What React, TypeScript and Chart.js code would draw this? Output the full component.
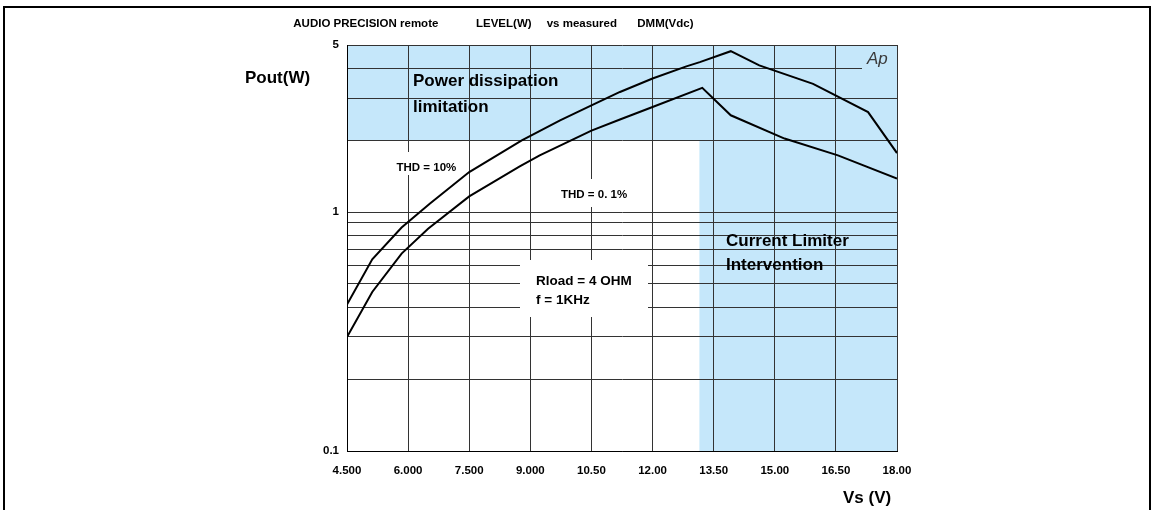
import React, { useEffect, useRef } from "react";
import { Chart, registerables } from "chart.js";

Chart.register(...registerables);

// ---- data ----
const xTickValues = [4.5, 6, 7.5, 9, 10.5, 12, 13.5, 15, 16.5, 18];
const xTickLabels = ["4.500", "6.000", "7.500", "9.000", "10.50", "12.00", "13.50", "15.00", "16.50", "18.00"];
const yGridValues = [0.1, 0.2, 0.3, 0.4, 0.5, 0.6, 0.7, 0.8, 0.9, 1, 2, 3, 4, 5];
const yLabelValues = [0.1, 1, 5];
const yTickLabels = ["0.1", "1", "5"];

const thd10Vs = [4.5, 5.12, 5.84, 6.53, 7.5, 8.79, 9.73, 10.5, 11.2, 12.0, 12.83, 13.16, 13.92, 14.62, 15.94, 17.29, 18.0];
const thd10Pout = [0.41, 0.634, 0.861, 1.084, 1.47, 1.995, 2.42, 2.795, 3.18, 3.62, 4.07, 4.24, 4.71, 4.11, 3.44, 2.62, 1.765];

const thd01Vs = [4.5, 5.12, 5.84, 6.49, 7.5, 8.74, 9.23, 10.5, 11.2, 12.0, 13.22, 13.92, 15.24, 16.55, 18.0];
const thd01Pout = [0.3, 0.463, 0.67, 0.852, 1.163, 1.553, 1.726, 2.19, 2.44, 2.75, 3.31, 2.54, 2.03, 1.726, 1.38];

const powerLimitPout = 2;
const currentLimitVs = 13.15;

const FONT = "'Liberation Sans', Arial, Helvetica, sans-serif";
const BLUE = "#C5E7FA";
const GRID = "#333333";

const decor = {
  id: "decor",
  beforeDraw(chart: any) {
    const { ctx, chartArea: a, scales } = chart;
    const x = scales.x;
    const y = scales.y;
    ctx.save();
    ctx.fillStyle = BLUE;
    const yp = y.getPixelForValue(powerLimitPout);
    ctx.fillRect(a.left, a.top, a.right - a.left, yp - a.top);
    const xc = x.getPixelForValue(currentLimitVs);
    ctx.fillRect(xc, yp, a.right - xc, a.bottom - yp);
    ctx.restore();
  },
  beforeDatasetsDraw(chart: any) {
    const { ctx, scales } = chart;
    const y = scales.y;
    ctx.save();
    // white label backgrounds
    ctx.fillStyle = "#ffffff";
    ctx.fillRect(391, 152, 72, 23);
    ctx.fillRect(556, 179, 80, 28);
    ctx.fillRect(520, 260, 128, 57);

    // Ap logo area (grid line cut)
    const y4 = y.getPixelForValue(4);
    ctx.fillStyle = BLUE;
    ctx.fillRect(862, Math.round(y4) - 2, 897 - 862, 4);
    ctx.fillStyle = "#3a3a3a";
    ctx.font = `italic 17px ${FONT}`;
    ctx.textBaseline = "alphabetic";
    ctx.textAlign = "left";
    ctx.fillText("Ap", 867, 63.5);

    ctx.fillStyle = "#000";
    ctx.font = `bold 17px ${FONT}`;
    ctx.fillText("Power dissipation", 413, 85.7);
    ctx.fillText("limitation", 413, 111.7);
    ctx.fillText("Current Limiter", 726, 246);
    ctx.fillText("Intervention", 726, 270);

    ctx.font = `bold 11.5px ${FONT}`;
    ctx.fillText("THD = 10%", 396.5, 170.5);
    ctx.fillText("THD = 0. 1%", 561, 198.3);

    ctx.font = `bold 13.5px ${FONT}`;
    ctx.fillText("Rload = 4 OHM", 536, 285);
    ctx.fillText("f = 1KHz", 536, 304);
    ctx.restore();
  },
  afterDraw(chart: any) {
    const { ctx } = chart;
    ctx.save();
    ctx.fillStyle = "#000";
    ctx.textBaseline = "alphabetic";
    ctx.textAlign = "left";
    ctx.font = `bold 11.5px ${FONT}`;
    ctx.fillText("AUDIO PRECISION remote", 293.3, 26.5);
    ctx.fillText("LEVEL(W)", 476, 26.5);
    ctx.fillText("vs measured", 546.7, 26.5);
    ctx.fillText("DMM(Vdc)", 637.3, 26.5);

    ctx.font = `bold 17px ${FONT}`;
    ctx.fillText("Pout(W)", 245, 83);
    ctx.fillText("Vs (V)", 843, 503);

    // outer frame
    ctx.fillRect(3, 6, 1148, 2);
    ctx.fillRect(3, 6, 2, 504);
    ctx.fillRect(1149, 6, 2, 504);
    ctx.restore();
  },
};

export default function App() {
  const ref = useRef<HTMLCanvasElement | null>(null);

  useEffect(() => {
    if (!ref.current) return;
    const chart = new Chart(ref.current, {
      type: "line",
      data: {
        datasets: [
          {
            label: "THD = 10%",
            data: thd10Vs.map((v, i) => ({ x: v, y: thd10Pout[i] })),
            borderColor: "#000",
            borderWidth: 2,
            pointRadius: 0,
            tension: 0,
            fill: false,
          },
          {
            label: "THD = 0.1%",
            data: thd01Vs.map((v, i) => ({ x: v, y: thd01Pout[i] })),
            borderColor: "#000",
            borderWidth: 2,
            pointRadius: 0,
            tension: 0,
            fill: false,
          },
        ],
      },
      options: {
        animation: false,
        responsive: false,
        layout: { padding: { left: 0, top: 45, right: 256, bottom: 0 } },
        plugins: {
          legend: { display: false },
          tooltip: { enabled: false },
          title: { display: false },
        },
        scales: {
          x: {
            type: "linear",
            min: 4.5,
            max: 18,
            afterBuildTicks: (s: any) => {
              s.ticks = xTickValues.map((v) => ({ value: v }));
            },
            afterFit: (s: any) => {
              s.height = 59;
              s.paddingLeft = 0;
              s.paddingRight = 0;
            },
            ticks: {
              autoSkip: false,
              maxRotation: 0,
              minRotation: 0,
              padding: 13,
              color: "#000",
              font: { family: FONT, size: 11.5, weight: "bold" },
              callback: (v: any) => {
                const k = xTickValues.indexOf(Number(v));
                return k >= 0 ? xTickLabels[k] : "";
              },
            },
            grid: { color: GRID, lineWidth: 1, drawTicks: false },
            border: { color: "#000", width: 1 },
          },
          y: {
            type: "logarithmic",
            min: 0.1,
            max: 5,
            afterBuildTicks: (s: any) => {
              s.ticks = yGridValues.map((v) => ({ value: v }));
            },
            afterFit: (s: any) => {
              s.width = 347;
              s.paddingTop = 0;
              s.paddingBottom = 0;
            },
            ticks: {
              autoSkip: false,
              padding: 8,
              color: "#000",
              font: { family: FONT, size: 11.5, weight: "bold" },
              callback: (v: any) => {
                const k = yLabelValues.indexOf(Number(v));
                return k >= 0 ? yTickLabels[k] : "";
              },
            },
            grid: { color: GRID, lineWidth: 1, drawTicks: false },
            border: { color: "#000", width: 1 },
          },
        },
      } as any,
      plugins: [decor],
    });
    return () => chart.destroy();
  }, []);

  return (
    <div style={{ position: "absolute", left: 0, top: 0, width: 1153, height: 510, background: "#fff" }}>
      <canvas ref={ref} width={1153} height={510} style={{ display: "block" }} />
    </div>
  );
}
